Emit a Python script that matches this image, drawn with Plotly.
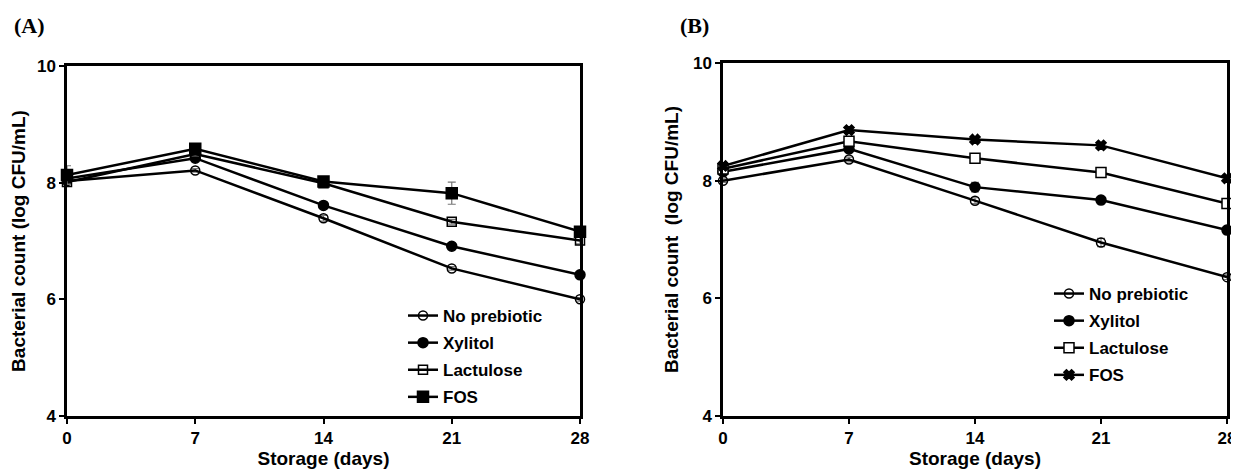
import plotly.graph_objects as go

days = [0, 7, 14, 21, 28]
series_names = ["No prebiotic", "Xylitol", "Lactulose", "FOS"]

# Panel A values (log CFU/mL)
a_no_prebiotic = [8.03, 8.21, 7.39, 6.53, 6.00]
a_xylitol = [8.07, 8.42, 7.61, 6.91, 6.42]
a_lactulose = [8.01, 8.49, 7.99, 7.33, 7.01]
a_fos = [8.13, 8.58, 8.02, 7.82, 7.16]
a_err_no_prebiotic = [0.04, 0.03, 0.05, 0.03, 0.03]
a_err_xylitol = [0.03, 0.03, 0.04, 0.04, 0.03]
a_err_lactulose = [0.04, 0.03, 0.06, 0.04, 0.06]
a_err_fos = [0.16, 0.04, 0.05, 0.19, 0.04]

# Panel B values (log CFU/mL)
b_no_prebiotic = [8.00, 8.36, 7.66, 6.95, 6.36]
b_xylitol = [8.15, 8.54, 7.89, 7.67, 7.16]
b_lactulose = [8.20, 8.67, 8.38, 8.14, 7.61]
b_fos = [8.25, 8.86, 8.70, 8.60, 8.04]
b_err_no_prebiotic = [0.03, 0.04, 0.05, 0.07, 0.04]
b_err_xylitol = [0.03, 0.05, 0.08, 0.05, 0.04]
b_err_lactulose = [0.03, 0.05, 0.04, 0.04, 0.07]
b_err_fos = [0.03, 0.04, 0.04, 0.04, 0.05]

symbols_a = ["circle-open", "circle", "square-open", "square"]
symbols_b = ["circle-open", "circle", "square", "x"]
fills_b = ["black", "black", "white", "black"]
sizes_a = [9, 10, 9, 11]
sizes_b = [9, 10, 10, 9]

# page is 1239x472; the html body has an 8px margin
OFF = 8
W, H = 1239 - OFF, 472 - OFF
def px_x(p):
    return (p - OFF) / W
def px_y(p):
    return 1 - (p - OFF) / H

fig = go.Figure()

a_vals = [a_no_prebiotic, a_xylitol, a_lactulose, a_fos]
a_errs = [a_err_no_prebiotic, a_err_xylitol, a_err_lactulose, a_err_fos]
b_vals = [b_no_prebiotic, b_xylitol, b_lactulose, b_fos]
b_errs = [b_err_no_prebiotic, b_err_xylitol, b_err_lactulose, b_err_fos]

for i, name in enumerate(series_names):
    fig.add_trace(go.Scatter(
        x=days, y=a_vals[i], name=name, mode="lines+markers",
        xaxis="x", yaxis="y", legend="legend", legendgroup="a%d" % i,
        line=dict(color="black", width=2.5),
        marker=dict(symbol=symbols_a[i], size=sizes_a[i], color="black",
                    line=dict(color="black", width=1.5)),
        error_y=dict(type="data", array=a_errs[i], color="#777777", thickness=1.2, width=4),
        cliponaxis=False,
    ))
for i, name in enumerate(series_names):
    fig.add_trace(go.Scatter(
        x=days, y=b_vals[i], name=name, mode="lines+markers",
        xaxis="x2", yaxis="y2", legend="legend2", legendgroup="b%d" % i,
        line=dict(color="black", width=2.5),
        marker=dict(symbol=symbols_b[i], size=sizes_b[i], color=fills_b[i],
                    line=dict(color="black", width=1.5)),
        error_y=dict(type="data", array=b_errs[i], color="#777777", thickness=1.2, width=4),
        cliponaxis=False,
    ))

axis_font = dict(family="Liberation Sans, Arial", size=17, color="black", weight="bold")
title_font = dict(family="Liberation Sans, Arial", size=19, color="black", weight="bold")
legend_font = dict(family="Liberation Sans, Arial", size=17, color="black", weight="bold")

xcommon = dict(range=[0, 28], tickvals=days, ticktext=[str(d) for d in days],
               showline=True, linecolor="black", linewidth=2.5, mirror=True,
               ticks="outside", ticklen=5, tickwidth=2, tickcolor="black",
               showgrid=False, zeroline=False, tickfont=axis_font,
               title_font=title_font, title_standoff=4, automargin=False)
ycommon = dict(range=[4, 10], tickvals=[4, 6, 8, 10],
               showline=True, linecolor="black", linewidth=2.5, mirror=True,
               ticks="outside", ticklen=5, tickwidth=2, tickcolor="black",
               showgrid=False, zeroline=False, tickfont=axis_font,
               title_font=title_font, title_standoff=10, automargin=False)

fig.update_layout(
    width=W, height=H,
    margin=dict(l=0, r=0, t=0, b=0),
    paper_bgcolor="white", plot_bgcolor="white",
    font=dict(family="Liberation Sans, Arial", color="black"),
    xaxis=dict(domain=[px_x(67), px_x(580)], anchor="y",
               title=dict(text="Storage (days)"), **xcommon),
    yaxis=dict(domain=[px_y(416), px_y(66)], anchor="x",
               title=dict(text="Bacterial count (log CFU/mL)"), **ycommon),
    xaxis2=dict(domain=[px_x(723), px_x(1227)], anchor="y2",
                title=dict(text="Storage (days)"), **xcommon),
    yaxis2=dict(domain=[px_y(416), px_y(63)], anchor="x2",
                title=dict(text="Bacterial count&nbsp; (log CFU/mL)"), **ycommon),
    legend=dict(x=px_x(403), y=px_y(298), xanchor="left", yanchor="top",
                bgcolor="rgba(0,0,0,0)", tracegroupgap=2, font=legend_font),
    legend2=dict(x=px_x(1049), y=px_y(276), xanchor="left", yanchor="top",
                 bgcolor="rgba(0,0,0,0)", tracegroupgap=2, font=legend_font),
    annotations=[
        dict(text="<b>(A)</b>", x=px_x(12), y=px_y(25), xref="paper", yref="paper",
             xanchor="left", yanchor="middle", showarrow=False,
             font=dict(family="Liberation Serif, Times New Roman", size=22, color="black")),
        dict(text="<b>(B)</b>", x=px_x(678), y=px_y(25), xref="paper", yref="paper",
             xanchor="left", yanchor="middle", showarrow=False,
             font=dict(family="Liberation Serif, Times New Roman", size=22, color="black")),
    ],
    showlegend=True,
)

fig.write_html("out.html")
